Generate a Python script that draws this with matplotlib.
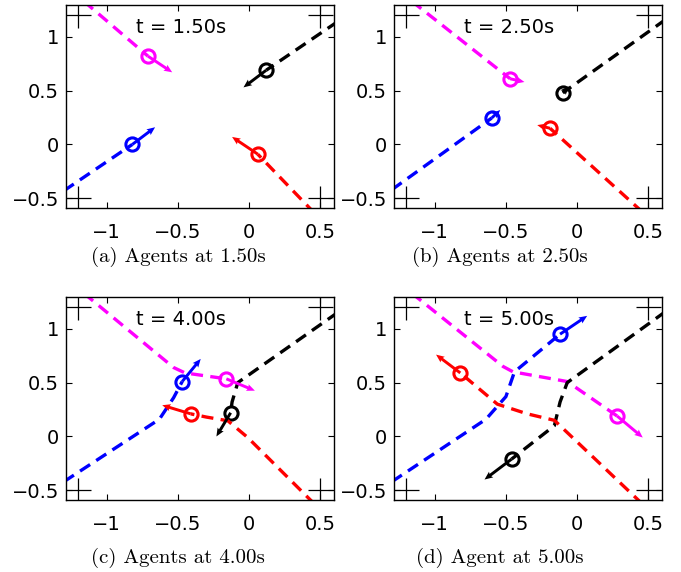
import matplotlib
matplotlib.use('Agg')
import matplotlib.pyplot as plt

# agent order: magenta, black, blue, red
colors = ['#ff00ff', 'k', 'b', 'r']
times = ['1.50', '2.50', '4.00', '5.00']
captions = ['(a) Agents at 1.50s', '(b) Agents at 2.50s',
            '(c) Agents at 4.00s', '(d) Agent at 5.00s']

# goal / start markers
goals_x = [-1.2, 0.5, -1.2, 0.5]
goals_y = [1.2, 1.2, -0.5, -0.5]

# trajectories (last point = current position) for each panel
paths_a = [
    [(-1.16, 1.33), (-0.71, 0.82)],
    [(0.62, 1.14), (0.12, 0.69)],
    [(-1.30, -0.43), (-0.82, 0.0)],
    [(0.46, -0.64), (0.06, -0.09)],
]
paths_b = [
    [(-1.16, 1.33), (-0.47, 0.61)],
    [(0.62, 1.16), (-0.10, 0.48)],
    [(-1.30, -0.42), (-0.60, 0.245)],
    [(0.46, -0.63), (-0.19, 0.15)],
]
paths_c = [
    [(-1.16, 1.33), (-0.53, 0.64), (-0.45, 0.59), (-0.16, 0.535)],
    [(0.62, 1.15), (-0.08, 0.50), (-0.12, 0.32), (-0.13, 0.22)],
    [(-1.30, -0.42), (-0.63, 0.16), (-0.53, 0.36), (-0.47, 0.51)],
    [(0.46, -0.63), (-0.01, -0.01), (-0.15, 0.146), (-0.30, 0.18), (-0.41, 0.21)],
]
paths_d = [
    [(-1.16, 1.33), (-0.52, 0.65), (-0.45, 0.60), (-0.07, 0.51), (0.28, 0.19)],
    [(0.62, 1.16), (-0.07, 0.50), (-0.12, 0.32), (-0.16, 0.10), (-0.46, -0.21)],
    [(-1.30, -0.42), (-0.64, 0.16), (-0.50, 0.37), (-0.44, 0.60), (-0.12, 0.95)],
    [(0.46, -0.63), (-0.16, 0.15), (-0.35, 0.21), (-0.56, 0.30), (-0.82, 0.59)],
]
paths = [paths_a, paths_b, paths_c, paths_d]

# velocity vectors at the current positions
vel_a = [(0.17, -0.15), (-0.16, -0.16), (0.16, 0.16), (-0.18, 0.16)]
vel_b = [(0.10, -0.03), (0.04, 0.06), (0.06, 0.075), (-0.09, 0.03)]
vel_c = [(0.20, -0.11), (-0.10, -0.22), (0.13, 0.21), (-0.20, 0.08)]
vel_d = [(0.18, -0.20), (-0.19, -0.19), (0.19, 0.17), (-0.17, 0.17)]
vels = [vel_a, vel_b, vel_c, vel_d]

xticks = [-1, -0.5, 0, 0.5]
yticks = [-0.5, 0, 0.5, 1]

W, H = 681, 572
fig = plt.figure(figsize=(W / 100, H / 100), dpi=100)

ax_boxes = [(66, 5), (394, 5), (66, 297), (394, 297)]  # left, top in px
cap_pos = [(178, 257), (500, 257), (178, 558), (500, 558)]
aw, ah = 268, 203

sans = ['DejaVu Sans']

for k in range(4):
    lx, ty = ax_boxes[k]
    ax = fig.add_axes([lx / W, 1 - (ty + ah) / H, aw / W, ah / H])
    ax.set_xlim(-1.285, 0.595)
    ax.set_ylim(-0.59, 1.295)
    ax.plot(goals_x, goals_y, '+', color='k', markersize=18, markeredgewidth=0.9)
    for i in range(4):
        xs = [p[0] for p in paths[k][i]]
        ys = [p[1] for p in paths[k][i]]
        ax.plot(xs, ys, color=colors[i], lw=2.4, linestyle=(0, (3.6, 2.2)))
        ax.plot(xs[-1], ys[-1], 'o', mfc='none', mec=colors[i], ms=9.5, mew=2.2)
        ax.quiver(xs[-1], ys[-1], vels[k][i][0], vels[k][i][1], color=colors[i],
                  angles='xy', scale_units='xy', scale=1, width=0.011,
                  headwidth=2.4, headlength=2.8, headaxislength=2.5, zorder=3)
    ax.text(-0.48, 1.09, 't = %ss' % times[k], ha='center', va='center',
            fontsize=14, family=sans)
    ax.set_xticks(xticks)
    ax.set_yticks(yticks)
    ax.set_xticklabels(['\u22121', '\u22120.5', '0', '0.5'], family=sans, fontsize=14)
    ax.set_yticklabels(['\u22120.5', '0', '0.5', '1'], family=sans, fontsize=14)
    ax.tick_params(direction='in', top=True, right=True, length=4, width=0.8)
    ax.tick_params(axis='x', pad=10.5)
    ax.tick_params(axis='y', pad=5)
    for s in ax.spines.values():
        s.set_linewidth(1.0)
    cx, cy = cap_pos[k]
    fig.text(cx / W, 1 - cy / H, captions[k], ha='center', va='center',
             fontsize=15, family=['cmr10', 'DejaVu Serif'])

fig.savefig('out.png', dpi=100)
